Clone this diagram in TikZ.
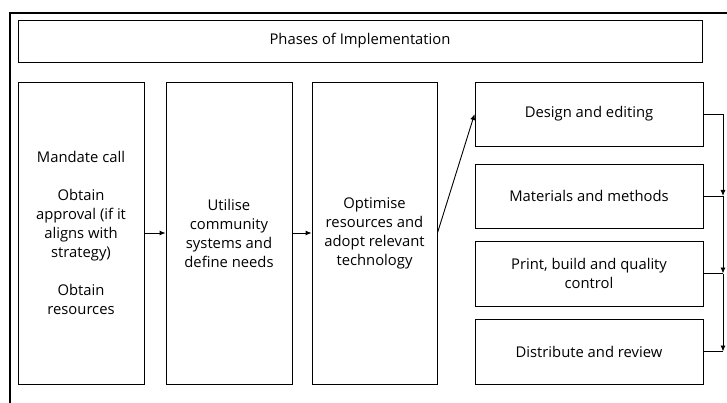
\documentclass[tikz,border=0pt]{standalone}
\usepackage{fontspec}
\setmainfont{Open Sans}
\usepackage{tikz}
\usetikzlibrary{
  arrows,
  arrows.meta,
  calc
}
\tikzset{
  phase/.style={
    draw,
    line width=0.9pt,
    align=center,
    inner sep=2pt,
    font=\fontsize{14.8}{19}\selectfont},
  link/.style={
    -{Latex[length=6pt,width=5pt]},
    line width=0.9pt}
  }

\begin{document}
\begin{tikzpicture}[x=1pt,y=-1pt]
		\useasboundingbox (0,0) rectangle (727,403);
		\draw [line width=2.4pt] (10,403) -- (10,13) -- (727,13);
		\node [phase, minimum width=684, minimum height=42] (title) at (360,41) {Phases of Implementation};
		\node [phase, minimum width=126, minimum height=302] (mandate) at (81,233) {Mandate call\\[19pt] Obtain\\ approval (if it\\ aligns with\\ strategy)\\[19pt] Obtain\\ resources};
		\node [phase, minimum width=126, minimum height=302] (utilise) at (229,233) {Utilise\\ community\\ systems and\\ define needs};
		\node [phase, minimum width=125, minimum height=302] (optimise) at (374.5,233) {Optimise\\ resources and\\ adopt relevant\\ technology};
		\node [phase, minimum width=228, minimum height=64] (design) at (589,114) {Design and editing};
		\node [phase, minimum width=228, minimum height=64] (materials) at (589,196) {Materials and methods};
		\node [phase, minimum width=228, minimum height=65] (print) at (589,273.5) {Print, build and quality\\ control};
		\node [phase, minimum width=228, minimum height=65] (distribute) at (589,351.5) {Distribute and review};
		\coordinate (rail) at (723,0);
		\draw [link] (mandate) to (utilise);
		\draw [link] (utilise) to (optimise);
		\draw [link] (optimise.east) to (design.west);
		\draw [link] (design.east) -| (materials.east -| rail);
		\draw [line width=0.9pt] (materials.east) -- (materials.east -| rail);
		\draw [link] (materials.east -| rail) -- (print.east -| rail);
		\draw [line width=0.9pt] (print.east) -- (print.east -| rail);
		\draw [link] (print.east -| rail) -- (distribute.east -| rail);
		\draw [line width=0.9pt] (distribute.east) -- (distribute.east -| rail);
	\end{tikzpicture}
\end{document}
